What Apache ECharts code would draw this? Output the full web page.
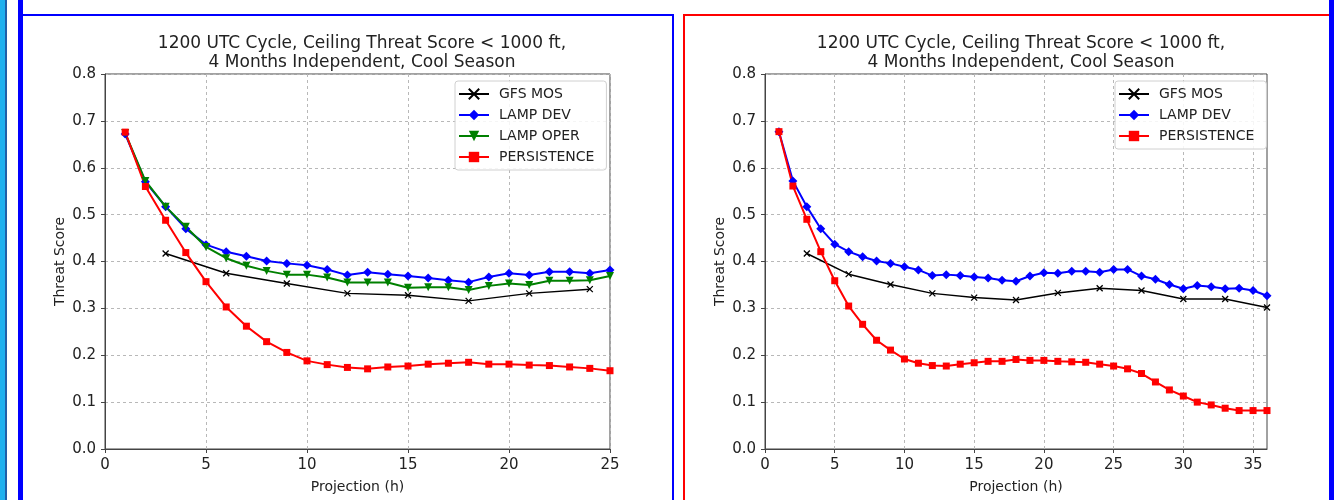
<!DOCTYPE html>
<html>
<head>
<meta charset="utf-8">
<script src="https://cdn.jsdelivr.net/npm/echarts@6/dist/echarts.min.js"></script>
</head>
<body style="margin:0; background:#fff">
<div id="container" style="width:1338px; height:500px"></div>
<script type="text/javascript">
// ---- data ----
var titleText = '1200 UTC Cycle, Ceiling Threat Score < 1000 ft,\n4 Months Independent, Cool Season';
var yTicks = [0, 0.1, 0.2, 0.3, 0.4, 0.5, 0.6, 0.7, 0.8];

// left panel (25 h)
var hoursL = [1,2,3,4,5,6,7,8,9,10,11,12,13,14,15,16,17,18,19,20,21,22,23,24,25];
var gfsHoursL = [3,6,9,12,15,18,21,24];
var gfsL = [0.417,0.375,0.353,0.332,0.328,0.316,0.332,0.341];
var devL = [0.672,0.570,0.517,0.470,0.436,0.421,0.411,0.401,0.396,0.392,0.383,0.371,0.377,0.373,0.369,0.365,0.360,0.356,0.367,0.375,0.371,0.378,0.378,0.375,0.382];
var operL = [0.674,0.572,0.517,0.474,0.431,0.407,0.391,0.380,0.372,0.372,0.366,0.355,0.355,0.355,0.344,0.345,0.345,0.339,0.348,0.353,0.350,0.359,0.359,0.360,0.369];
var persL = [0.676,0.560,0.488,0.419,0.357,0.303,0.262,0.229,0.206,0.188,0.180,0.174,0.171,0.175,0.177,0.181,0.183,0.185,0.181,0.181,0.179,0.178,0.175,0.172,0.167];

// right panel (36 h)
var hoursR = [1,2,3,4,5,6,7,8,9,10,11,12,13,14,15,16,17,18,19,20,21,22,23,24,25,26,27,28,29,30,31,32,33,34,35,36];
var gfsHoursR = [3,6,9,12,15,18,21,24,27,30,33,36];
var gfsR = [0.417,0.373,0.351,0.332,0.323,0.318,0.333,0.343,0.338,0.320,0.320,0.302];
var devR = [0.677,0.572,0.517,0.470,0.437,0.421,0.410,0.401,0.396,0.389,0.382,0.370,0.372,0.370,0.367,0.365,0.360,0.358,0.369,0.376,0.375,0.379,0.379,0.377,0.383,0.383,0.369,0.362,0.351,0.342,0.349,0.346,0.342,0.343,0.338,0.327];
var persR = [0.677,0.561,0.490,0.421,0.359,0.305,0.266,0.232,0.211,0.192,0.183,0.178,0.177,0.181,0.184,0.187,0.187,0.191,0.189,0.189,0.187,0.186,0.185,0.181,0.177,0.171,0.161,0.143,0.126,0.113,0.100,0.094,0.087,0.082,0.082,0.082];

var xTicksL = [0,5,10,15,20,25];
var xTicksR = [0,5,10,15,20,25,30,35];

function pairs(xs, ys) {
    return xs.map(function (x, i) { return [x, ys[i]]; });
}

var FONT = 'DejaVu Sans';
var X_MARK = 'path://M0,0L10,10M10,0L0,10';

function lineSeries(name, color, symbol, size, xs, ys, idx, extra) {
    var s = {
        name: name,
        type: 'line',
        xAxisIndex: idx,
        yAxisIndex: idx,
        data: pairs(xs, ys),
        symbol: symbol,
        symbolSize: size,
        showAllSymbol: true,
        animation: false,
        lineStyle: { color: color, width: name === 'GFS MOS' ? 1.5 : 2 },
        itemStyle: { color: color, borderColor: color, borderWidth: name === 'GFS MOS' ? 1.3 : 0 }
    };
    for (var k in extra) s[k] = extra[k];
    return s;
}

function xAxisFor(idx, max, ticks) {
    return {
        type: 'value', gridIndex: idx, min: 0, max: max, interval: 5,
        name: 'Projection (h)', nameLocation: 'middle', nameGap: 31,
        nameTextStyle: { fontFamily: FONT, fontSize: 14, color: '#222' },
        axisLine: { lineStyle: { color: '#444', width: 1 } },
        axisTick: { length: 4, lineStyle: { color: '#444' }, customValues: ticks },
        axisLabel: { fontFamily: FONT, fontSize: 15, color: '#222', margin: 9, customValues: ticks },
        splitLine: { show: true, lineStyle: { color: '#b8b8b8', type: [3, 3] } }
    };
}

function yAxisFor(idx) {
    return {
        type: 'value', gridIndex: idx, min: 0, max: 0.8, interval: 0.1,
        name: 'Threat Score', nameLocation: 'middle', nameGap: 38,
        nameTextStyle: { fontFamily: FONT, fontSize: 14, color: '#222' },
        axisLine: { show: true, lineStyle: { color: '#444', width: 1 } },
        axisTick: { show: true, length: 4, lineStyle: { color: '#444' }, customValues: yTicks },
        axisLabel: { fontFamily: FONT, fontSize: 15, color: '#222', margin: 9, customValues: yTicks,
                     formatter: function (v) { return v.toFixed(1); } },
        splitLine: { show: true, lineStyle: { color: '#b8b8b8', type: [3, 3] } }
    };
}

function legendFor(left, names) {
    return {
        left: left, top: 81, orient: 'vertical',
        data: names,
        itemWidth: 30, itemHeight: 13, itemGap: 7,
        padding: [6, 12, 6, 3],
        backgroundColor: 'rgba(255,255,255,0.85)',
        borderColor: '#d0d0d0', borderWidth: 1, borderRadius: 3,
        textStyle: { fontFamily: FONT, fontSize: 14, color: '#222', lineHeight: 13, padding: [0, 0, 0, 5] }
    };
}

var myChart = echarts.init(document.getElementById('container'));

var option = {
    backgroundColor: '#fff',
    animation: false,
    title: [
        { text: titleText, left: 357, top: 29, textAlign: 'center',
          textStyle: { fontFamily: FONT, fontSize: 17, fontWeight: 'normal', color: '#222', lineHeight: 19 } },
        { text: titleText, left: 1016, top: 29, textAlign: 'center',
          textStyle: { fontFamily: FONT, fontSize: 17, fontWeight: 'normal', color: '#222', lineHeight: 19 } }
    ],
    legend: [
        legendFor(455, ['GFS MOS', 'LAMP DEV', 'LAMP OPER', 'PERSISTENCE']),
        legendFor(1115, ['GFS MOS', 'LAMP DEV', 'PERSISTENCE'])
    ],
    grid: [
        { left: 105, top: 74, width: 505, height: 375, show: true, borderColor: '#444', borderWidth: 1, backgroundColor: 'transparent' },
        { left: 765, top: 74, width: 502, height: 375, show: true, borderColor: '#444', borderWidth: 1, backgroundColor: 'transparent' }
    ],
    xAxis: [xAxisFor(0, 25, xTicksL), xAxisFor(1, 36, xTicksR)],
    yAxis: [yAxisFor(0), yAxisFor(1)],
    series: [
        lineSeries('GFS MOS', '#000000', X_MARK, 6, gfsHoursL, gfsL, 0),
        lineSeries('LAMP DEV', '#0000ff', 'diamond', 9, hoursL, devL, 0),
        lineSeries('LAMP OPER', '#008000', 'triangle', 8, hoursL, operL, 0, { symbolRotate: 180 }),
        lineSeries('PERSISTENCE', '#ff0000', 'rect', 7, hoursL, persL, 0),
        lineSeries('GFS MOS', '#000000', X_MARK, 6, gfsHoursR, gfsR, 1),
        lineSeries('LAMP DEV', '#0000ff', 'diamond', 9, hoursR, devR, 1),
        lineSeries('PERSISTENCE', '#ff0000', 'rect', 7, hoursR, persR, 1)
    ],
    graphic: [
        // slide frame pieces
        { type: 'rect', shape: { x: 0, y: 0, width: 5, height: 500 }, style: { fill: '#1fb0ee' } },
        { type: 'rect', shape: { x: 5, y: 0, width: 2, height: 500 }, style: { fill: '#1f5fa8' } },
        { type: 'rect', shape: { x: 18, y: 0, width: 5, height: 500 }, style: { fill: '#0000ff' } },
        { type: 'rect', shape: { x: 23, y: 14, width: 651, height: 2 }, style: { fill: '#0000ff' } },
        { type: 'rect', shape: { x: 672, y: 14, width: 2, height: 486 }, style: { fill: '#0000ff' } },
        { type: 'rect', shape: { x: 683, y: 14, width: 2, height: 486 }, style: { fill: '#ff0000' } },
        { type: 'rect', shape: { x: 683, y: 14, width: 646, height: 2 }, style: { fill: '#ff0000' } },
        { type: 'rect', shape: { x: 1329, y: 0, width: 5, height: 500 }, style: { fill: '#0000ff' } }
    ]
};

myChart.setOption(option);
</script>
</body>
</html>
